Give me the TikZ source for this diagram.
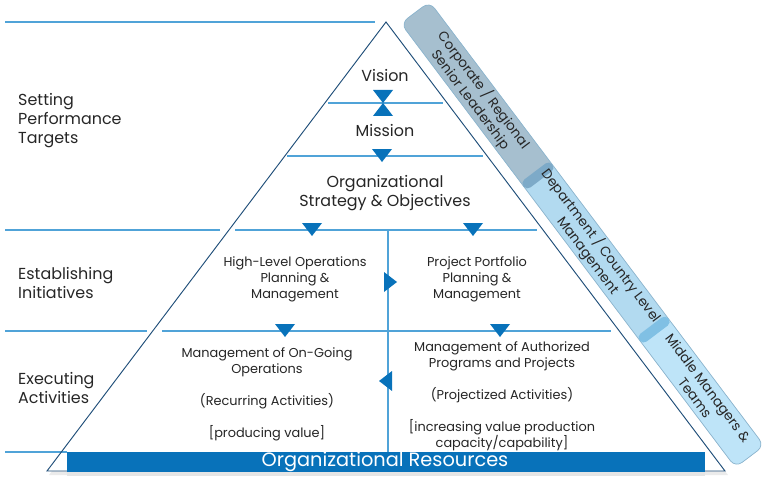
\documentclass[tikz,border=0pt]{standalone}
\usepackage{fontspec}
\setmainfont{Poppins}
\usepackage{tikz}
\definecolor{lineblue}{RGB}{80,163,216}
\definecolor{edgeblue}{RGB}{31,78,121}
\definecolor{orgblue}{RGB}{8,114,186}
\definecolor{segA}{RGB}{166,191,207}
\definecolor{segB}{RGB}{178,218,240}
\definecolor{segC}{RGB}{190,228,248}
\definecolor{sepA}{RGB}{125,170,200}
\definecolor{sepB}{RGB}{128,192,228}
\definecolor{bandline}{RGB}{140,180,205}
\definecolor{ink}{RGB}{38,38,38}

\begin{document}
\begin{tikzpicture}[x=0.03cm,y=-0.03cm,
  lbl/.style={font=\fontsize{13.6}{16.2}\selectfont,text=ink,align=left,anchor=west,inner sep=0pt},
  ttl/.style={font=\fontsize{13.6}{16.2}\selectfont,text=ink,align=center,inner sep=0pt},
  sml/.style={font=\fontsize{11}{13.6}\selectfont,text=ink,align=center,inner sep=0pt},
  band/.style={font=\fontsize{11.6}{13.8}\selectfont,text=ink,align=center,inner sep=0pt,rotate=-53},
  divider/.style={lineblue,line width=1.2pt},
  dtri/.pic={\fill[orgblue] (-10,-13) -- (10,-13) -- (0,0) -- cycle;}]
\useasboundingbox (0,0) rectangle (768,481);
\coordinate (apex) at (386,22);
\coordinate (bl) at (47,471);
\coordinate (br) at (725,471);
% pyramid body
\fill[black!8] (388,25) -- (49,475) -- (728,475) -- cycle;
\fill[white] (apex) -- (bl) -- (br) -- cycle;
% level dividers
\draw[divider] (5,22) -- (375,22);
\draw[divider] (328,103) -- (443,103);
\draw[divider] (287,156) -- (483,156);
\draw[divider] (5,230) -- (220,230);
\draw[divider] (235,230) -- (537,230);
\draw[divider] (5,331) -- (147,331);
\draw[divider] (162,331) -- (611,331);
\draw[divider] (5,452) -- (67,452);
\draw[divider] (388,230) -- (388,452);
\draw[edgeblue,line width=0.8pt] (apex) -- (bl) -- (br) -- cycle;
% resources bar
\fill[black!10] (67,472) rectangle (705,476);
\fill[orgblue] (67,452) rectangle (705,472);
\node[font=\fontsize{16.5}{20}\selectfont,text=white,inner sep=0pt] (resources) at (385,462) {Organizational Resources};
% left column
\node[lbl] (targets) at (18,121) {Setting\\Performance\\Targets};
\node[lbl] (initiatives) at (18,283) {Establishing\\Initiatives};
\node[lbl] (activities) at (18,388) {Executing\\Activities};
% pyramid texts
\node[ttl] (vision) at (385,76) {Vision};
\node[ttl] (mission) at (385,131) {Mission};
\node[ttl] (strategy) at (385,193) {Organizational\\Strategy \& Objectives};
\node[sml] (hlops) at (295,279) {High-Level Operations\\Planning \&\\Management};
\node[sml] (portfolio) at (477,279) {Project Portfolio\\Planning \&\\Management};
\node[sml] (ongoing) at (267,394) {Management of On-Going\\Operations\\[13.6pt](Recurring Activities)\\[13.6pt][producing value]};
\node[sml] (authorized) at (502,396) {Management of Authorized\\Programs and Projects\\[13.6pt](Projectized Activities)\\[13.6pt][increasing value production\\capacity/capability]};
% flow markers
\pic at (383,103) {dtri};
\pic[rotate=180] at (383,103) {dtri};
\pic at (382,162) {dtri};
\pic at (312,236) {dtri};
\pic at (473,236) {dtri};
\pic at (285,337) {dtri};
\pic at (500,337) {dtri};
\pic[rotate=90] at (397,282) {dtri};
\pic[rotate=-90] at (379,381) {dtri};
% management band along the right edge
\begin{scope}[shift={(apex)},rotate=-53]
  \fill[segB,rounded corners=7] (10,-11) rectangle (566,-47);
  \begin{scope}
    \clip (0,0) rectangle (214,-60);
    \fill[segA,rounded corners=7] (10,-11) rectangle (230,-47);
  \end{scope}
  \begin{scope}
    \clip (407,0) rectangle (580,-60);
    \fill[segC,rounded corners=7] (390,-11) rectangle (566,-47);
  \end{scope}
  \draw[bandline,line width=0.6pt,rounded corners=7] (10,-11) rectangle (566,-47);
  \fill[sepA,rounded corners=4] (209,-11) rectangle (219,-47);
  \fill[sepB,rounded corners=4] (402,-11) rectangle (412,-47);
  \node[band] (senior) at (113,-29) {Corporate / Regional\\Senior Leadership};
  \node[band] (dept) at (308,-29) {Department / Country Level\\Management};
  \node[band] (middle) at (486,-29) {Middle Managers \&\\Teams};
\end{scope}
\end{tikzpicture}
\end{document}
